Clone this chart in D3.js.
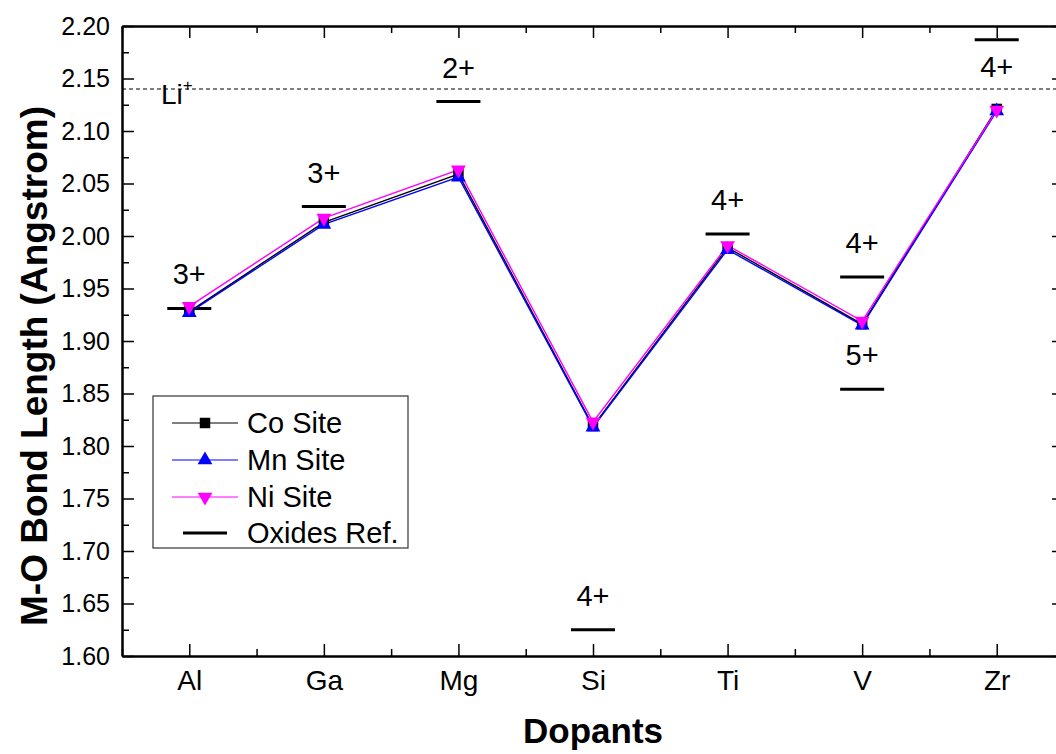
<!DOCTYPE html>
<html>
<head>
<meta charset="utf-8">
<script src="https://cdn.jsdelivr.net/npm/d3@7"></script>
<style>
  body { margin: 0; background: #fff; }
  text { font-family: "Liberation Sans", Arial, sans-serif; }
</style>
</head>
<body>
<svg id="chart" width="1056" height="754"></svg>
<script>
// data
const dopants = ["Al", "Ga", "Mg", "Si", "Ti", "V", "Zr"];
const coSite = [1.928, 2.013, 2.059, 1.819, 1.989, 1.916, 2.121];
const mnSite = [1.927, 2.011, 2.056, 1.818, 1.987, 1.915, 2.119];
const niSite = [1.933, 2.017, 2.063, 1.823, 1.991, 1.919, 2.120];

// oxide reference bond lengths (dopant index, value, charge)
const oxideDopant = [0, 1, 2, 3, 4, 5, 5, 6];
const oxideValue = [1.931, 2.028, 2.128, 1.625, 2.002, 1.961, 1.854, 2.187];
const oxideCharge = ["3+", "3+", "2+", "4+", "4+", "4+", "5+", "4+"];

const liRef = 2.14;
const yTicks = [1.60, 1.65, 1.70, 1.75, 1.80, 1.85, 1.90, 1.95, 2.00, 2.05, 2.10, 2.15, 2.20];

const svg = d3.select("#chart");
const plotL = 122, plotR = 1064, plotT = 26, plotB = 656;

const x = d3.scaleLinear().domain([0.5, dopants.length + 0.5]).range([plotL, plotR]);
const y = d3.scaleLinear().domain([1.60, 2.20]).range([plotB, plotT]);

const majorX = dopants.map((d, i) => i + 1);
const minorX = d3.range(0.5, dopants.length + 1, 1);
const minorY = yTicks.slice(0, -1).map(v => v + 0.025);

function styleAxis(g) {
  g.select(".domain").attr("stroke", "#000").attr("stroke-width", 2);
  g.selectAll(".tick line").attr("stroke", "#000").attr("stroke-width", 1.5);
  g.selectAll("text").attr("fill", "#000");
}

// bottom axis
svg.append("g")
  .attr("transform", `translate(0,${plotB})`)
  .call(d3.axisBottom(x).tickValues(majorX).tickFormat(i => dopants[i - 1])
    .tickSize(-12).tickPadding(14).tickSizeOuter(0))
  .call(styleAxis)
  .call(g => g.selectAll("text").attr("font-size", 28));
svg.append("g")
  .attr("transform", `translate(0,${plotB})`)
  .call(d3.axisBottom(x).tickValues(minorX).tickFormat("").tickSize(-7).tickSizeOuter(0))
  .call(styleAxis);

// top axis
svg.append("g")
  .attr("transform", `translate(0,${plotT})`)
  .call(d3.axisTop(x).tickValues(majorX).tickFormat("").tickSize(-12).tickSizeOuter(0))
  .call(styleAxis);
svg.append("g")
  .attr("transform", `translate(0,${plotT})`)
  .call(d3.axisTop(x).tickValues(minorX).tickFormat("").tickSize(-7).tickSizeOuter(0))
  .call(styleAxis);

// left axis
svg.append("g")
  .attr("transform", `translate(${plotL},0)`)
  .call(d3.axisLeft(y).tickValues(yTicks).tickFormat(d3.format(".2f"))
    .tickSize(-12).tickPadding(12).tickSizeOuter(0))
  .call(styleAxis)
  .call(g => g.selectAll("text").attr("font-size", 25));
svg.append("g")
  .attr("transform", `translate(${plotL},0)`)
  .call(d3.axisLeft(y).tickValues(minorY).tickFormat("").tickSize(-7).tickSizeOuter(0))
  .call(styleAxis);

// right axis
svg.append("g")
  .attr("transform", `translate(${plotR},0)`)
  .call(d3.axisRight(y).tickValues(yTicks).tickFormat("").tickSize(-12).tickSizeOuter(0))
  .call(styleAxis);
svg.append("g")
  .attr("transform", `translate(${plotR},0)`)
  .call(d3.axisRight(y).tickValues(minorY).tickFormat("").tickSize(-7).tickSizeOuter(0))
  .call(styleAxis);

// axis titles
svg.append("text")
  .attr("x", (plotL + plotR) / 2).attr("y", 743)
  .attr("text-anchor", "middle")
  .attr("font-size", 35).attr("font-weight", "bold")
  .text("Dopants");
svg.append("text")
  .attr("transform", `translate(47,${(plotT + plotB) / 2 + 25}) rotate(-90)`)
  .attr("text-anchor", "middle")
  .attr("font-size", 37).attr("font-weight", "bold")
  .text("M-O Bond Length (Angstrom)");

// Li+ reference line
svg.append("line")
  .attr("x1", plotL).attr("x2", plotR)
  .attr("y1", y(liRef)).attr("y2", y(liRef))
  .attr("stroke", "#000").attr("stroke-width", 1)
  .attr("stroke-dasharray", "4,3");
const li = svg.append("text")
  .attr("x", 161).attr("y", 104)
  .attr("font-size", 28)
  .text("Li");
li.append("tspan").attr("dy", -13).attr("font-size", 17).text("+");

// oxide reference bars
oxideValue.forEach((v, k) => {
  const cx = x(oxideDopant[k] + 1);
  svg.append("line")
    .attr("x1", cx - 22).attr("x2", cx + 22)
    .attr("y1", y(v)).attr("y2", y(v))
    .attr("stroke", "#000").attr("stroke-width", 3);
  const below = k === oxideValue.length - 1;
  svg.append("text")
    .attr("x", cx).attr("y", y(v) + (below ? 37 : -24))
    .attr("text-anchor", "middle")
    .attr("font-size", 29)
    .text(oxideCharge[k]);
});

// series
const series = [
  { name: "Co Site", values: coSite, color: "#000", shape: d3.symbolSquare, size: 110, rot: 0 },
  { name: "Mn Site", values: mnSite, color: "#0000ff", shape: d3.symbolTriangle, size: 95, rot: 0 },
  { name: "Ni Site", values: niSite, color: "#ff00ff", shape: d3.symbolTriangle, size: 95, rot: 180 }
];

const line = d3.line().x((d, i) => x(i + 1)).y(d => y(d));

series.forEach(s => {
  svg.append("path")
    .attr("d", line(s.values))
    .attr("fill", "none")
    .attr("stroke", s.color).attr("stroke-width", 1.4);
});
series.forEach(s => {
  svg.append("g").selectAll("path")
    .data(s.values)
    .join("path")
    .attr("d", d3.symbol().type(s.shape).size(s.size))
    .attr("transform", (d, i) => `translate(${x(i + 1)},${y(d)}) rotate(${s.rot})`)
    .attr("fill", s.color);
});

// legend
const lg = svg.append("g").attr("transform", "translate(153,396)");
lg.append("rect")
  .attr("width", 255).attr("height", 152)
  .attr("fill", "#fff").attr("stroke", "#333").attr("stroke-width", 1.2);
series.forEach((s, i) => {
  const ly = 27 + i * 37;
  lg.append("line")
    .attr("x1", 19).attr("x2", 85).attr("y1", ly).attr("y2", ly)
    .attr("stroke", s.color).attr("stroke-width", 1.2);
  lg.append("path")
    .attr("d", d3.symbol().type(s.shape).size(s.size))
    .attr("transform", `translate(52,${ly}) rotate(${s.rot})`)
    .attr("fill", s.color);
  lg.append("text")
    .attr("x", 94).attr("y", ly).attr("dy", "0.36em")
    .attr("font-size", 29).text(s.name);
});
lg.append("line")
  .attr("x1", 30).attr("x2", 74).attr("y1", 137).attr("y2", 137)
  .attr("stroke", "#000").attr("stroke-width", 3);
lg.append("text")
  .attr("x", 94).attr("y", 137).attr("dy", "0.36em")
  .attr("font-size", 29).text("Oxides Ref.");
</script>
</body>
</html>
